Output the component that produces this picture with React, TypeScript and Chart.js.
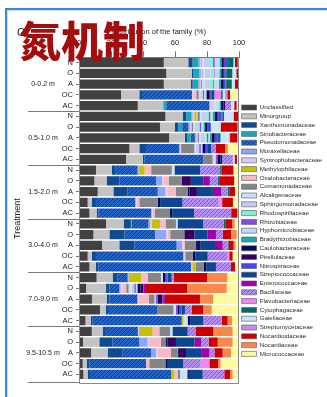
import React, { useEffect, useRef } from "react";
import { Chart, registerables } from "chart.js";

Chart.register(...registerables);

const FONT = '"Liberation Sans", Arial, sans-serif';

// Depth intervals and treatments (one bar per treatment per depth)
const depths = ["0-0.2 m", "0.5-1.0 m", "1.5-2.0 m", "3.0-4.0 m", "7.0-9.0 m", "9.5-10.5 m"];
const treatments = ["N", "O", "A", "OC", "AC"];
const rowLabels = depths.flatMap(() => treatments);
const xTicks = [0, 20, 40, 60, 80, 100];

// Relative abundance (%) of each family, one value per bar (top to bottom)
const unclassified = [53, 54.5, 53, 26.3, 36.7, 54, 50.6, 56.3, 31.5, 29.4, 10.6, 9.6, 11.7, 5.4, 6.5, 16.9, 9, 14.4, 5.4, 6.5, 11, 4.4, 8.1, 13.1, 4, 8, 2.5, 7.5, 2.3, 2.7];
const minorgroup = [15.3, 16, 16.8, 11.4, 16, 10.8, 9.4, 9.9, 6.2, 10.4, 10, 7.7, 9.8, 2.7, 4.5, 11, 10, 10.8, 2.7, 4.1, 10, 12.5, 9.2, 3.6, 3.5, 6.8, 10.2, 10.4, 2.5, 2.7];
const xanthomonadaceae = [2.7, 1, 1.2, 1.7, 0.3, 2.2, 2, 1.5, 4.2, 1, 2, 7.9, 8.9, 2.5, 1.2, 4.5, 9.5, 9.4, 2.5, 1.7, 3.2, 2.1, 1.7, 1.4, 1, 2, 8.3, 9.4, 1.7, 1.5];
const sinobacteraceae = [3.6, 3.7, 3.5, 0, 1.5, 3, 2.5, 2, 0, 0, 0, 0, 0, 0, 0, 0.5, 0, 0, 0, 0, 0, 0, 0, 0, 0, 0, 0, 0, 0, 0];
const pseudomonadaceae = [0, 0, 0, 31.2, 27, 0, 3.8, 2.7, 20.8, 36.9, 14, 22.9, 18.8, 24.6, 33, 10.5, 19, 26.4, 54.6, 57.7, 6.2, 6.2, 17.5, 31, 55.7, 20, 16.7, 17.7, 35.4, 50.6];
const moraxellaceae = [1, 1, 1, 0, 0, 1, 1, 0.8, 0, 0, 0.7, 3.8, 4.8, 0, 0, 1, 7, 3.4, 0, 0, 0.6, 0.8, 0, 0, 0, 0, 5.2, 3.1, 0, 0];
const syntrophobacteraceae = [0.5, 0.5, 0.5, 1, 2, 1, 1, 0.8, 1.1, 0, 0, 0.8, 1.5, 0.8, 1, 1.2, 0.8, 1, 1.2, 0.8, 0, 1, 0.7, 0, 0, 0.7, 0.8, 1, 0, 0];
const methylophilaceae = [0, 0, 0, 0, 0, 1.5, 0, 0, 0, 0, 3.7, 0, 0, 0, 0, 5, 0, 0, 0, 2.1, 7.8, 0, 0, 0, 1, 8.5, 0, 0, 0, 2.1];
const oxalobacteraceae = [0, 0, 0, 1.7, 0, 0.5, 0, 0, 0, 0, 4.1, 3.3, 4.9, 1.7, 1.3, 3.5, 1.7, 0.8, 0, 0, 4.2, 2.5, 6.3, 0, 0, 4.2, 7.5, 8.4, 2, 2.1];
const comamonadaceae = [0.5, 0.5, 0.8, 1.5, 0.3, 1.5, 1, 1, 8.3, 5.8, 12.9, 8.3, 7.7, 11.5, 9.4, 6.5, 8.8, 6.9, 4.6, 5, 8.2, 1.5, 3.6, 9.9, 0, 6.7, 3.2, 4.2, 10.1, 1.5];
const alcaligenaceae = [1.2, 1.5, 1.5, 1, 1.5, 1, 1, 1, 1, 1, 1.2, 0, 0, 0, 0, 1, 0, 0, 0, 0, 1.2, 2, 0, 1.5, 1.5, 1.5, 0, 0, 0, 4.5];
const sphingomonadaceae = [3.5, 3.5, 3, 1.5, 0.5, 3, 2, 3, 2, 1, 0, 0, 0, 0, 0, 0, 0, 0, 0, 0, 0, 1.5, 1, 0, 0, 0, 0, 0, 0, 0];
const rhodospirillaceae = [2.5, 2, 2.5, 0, 0, 1.5, 1, 1, 0, 0, 0, 0, 0, 0, 0, 0, 0, 0, 0, 0, 0, 0, 0, 0, 0, 0, 0, 0, 0, 0];
const rhizobiaceae = [1, 0.5, 0.5, 0.8, 0, 1, 1, 0.8, 1, 1, 0, 0, 0, 0, 0, 0, 0, 0, 0, 0, 0, 1, 1, 1, 0, 0, 0, 0, 0, 0];
const hyphomicrobiaceae = [3, 3, 3, 1.5, 2, 1.5, 1.5, 1, 1, 0, 0.5, 0, 0, 0, 0, 0, 0, 0, 0, 0, 0, 1, 0, 0, 1.3, 0, 0, 0, 0, 0];
const bradyrhizobiaceae = [1.2, 1.2, 1.2, 0, 1, 1.5, 1, 1, 0, 0, 0, 0, 0, 0, 0, 0, 0, 0, 0, 0, 0, 0, 0, 0, 0, 0, 0, 0, 0, 0];
const caulobacteraceae = [1.5, 1.5, 1.5, 2, 1.5, 1.5, 1.5, 2, 2, 2, 0, 0, 1, 1.5, 1.5, 0, 0, 0.6, 1.7, 1.7, 1.5, 2, 1.5, 1, 1.5, 0, 0.8, 0.7, 1.5, 1];
const pirellulaceae = [0.5, 0.4, 0.5, 0.5, 1, 0.6, 0, 0.6, 0, 1, 0, 5.6, 4.6, 0, 0, 0, 6.3, 2, 0, 0, 0, 1.5, 1.5, 0, 0, 0, 5.4, 4.5, 0, 0];
const nitrospiraceae = [1.5, 1, 1, 1, 0, 2, 1, 1, 1.5, 0, 0, 0, 0, 0, 0, 0, 0, 0, 0, 0, 1.5, 0.5, 1, 1.5, 0, 0, 0, 0, 0, 0];
const streptococcaceae = [0.5, 0.5, 0.5, 1.5, 0, 0.5, 1, 1, 2, 0, 16, 7.7, 10, 14, 13.5, 16, 8.3, 9.9, 7.7, 6, 2.5, 0, 0, 2.2, 8.2, 9.5, 11.5, 9.4, 9.7, 8.6];
const enterococcaceae = [0, 0, 0, 0, 0, 0, 0, 0, 0, 0, 0, 4.2, 5.2, 0, 0, 0, 5.2, 4.2, 0, 0, 0, 0.8, 0.6, 0, 0, 0, 4.2, 5.2, 0, 0];
const bacillaceae = [0, 0, 0, 0, 3.7, 0, 0, 0, 3, 6.7, 12.5, 4.8, 4.2, 22.5, 23, 13, 4.2, 3.1, 12.5, 9.4, 1.3, 0, 0, 4.2, 11.5, 5.2, 4.7, 3.1, 10.8, 13.5];
const flavobacteriaceae = [0, 0, 0, 4.2, 0, 0, 0, 0, 0, 0, 0, 0, 0, 1.5, 0, 0, 0, 0, 1, 0, 0, 0, 0, 0, 0, 0, 0, 0, 5.5, 0];
const cytophagaceae = [3.5, 3.5, 3.5, 1, 0, 1, 0, 1, 0, 0, 1, 1, 0.8, 0, 0.6, 1.2, 0, 0.6, 0, 0, 0, 0, 0, 0, 0, 0, 0, 0, 0, 0];
const gaiellaceae = [1, 2.5, 2, 1.5, 2, 6, 6.2, 5.5, 0, 1, 0, 0, 0, 0, 0, 0, 0, 0, 0, 0, 0, 0, 0, 0, 0, 0, 0, 0, 0, 0];
const streptomycetaceae = [0, 0, 0, 1.4, 0, 0, 0, 0.5, 0, 0, 0, 0, 0, 0.8, 0, 0, 0, 0, 0, 0, 0, 0, 0, 0, 0, 0, 0, 0, 0, 0];
const nocardioidaceae = [1.7, 1.7, 2, 1.7, 1.5, 2.8, 10.6, 4.6, 5.7, 1.5, 7.3, 9.4, 3.6, 6.7, 3.5, 4, 5.2, 3.1, 2.1, 2.5, 20.8, 26.2, 21.9, 7.3, 3.7, 10.9, 5.7, 5.2, 5.5, 3.6];
const nocardiaceae = [0, 0, 0, 0, 0, 0, 0, 0, 1.7, 0, 0, 0, 0, 0, 0, 1.5, 3.5, 1.2, 0, 0, 12.7, 24.8, 8.3, 5.2, 2.7, 12, 9.3, 5.2, 1.5, 1.6];
const micrococcaceae = [0.8, 0, 0.5, 5.6, 1.5, 0.6, 0.9, 1, 7, 1.3, 3.5, 3, 2.5, 3.8, 1, 2.7, 1.5, 2.2, 4, 2.5, 7.3, 7.7, 16.1, 17.1, 4.4, 4, 4, 5, 11.5, 4];

// Family names, values and fill colours, in stacking / legend order
const familyNames = [
  "Unclassified", "Minorgroup", "Xanthomonadaceae", "Sinobacteraceae", "Pseudomonadaceae",
  "Moraxellaceae", "Syntrophobacteraceae", "Methylophilaceae", "Oxalobacteraceae", "Comamonadaceae",
  "Alcaligenaceae", "Sphingomonadaceae", "Rhodospirillaceae", "Rhizobiaceae", "Hyphomicrobiaceae",
  "Bradyrhizobiaceae", "Caulobacteraceae", "Pirellulaceae", "Nitrospiraceae", "Streptococcaceae",
  "Enterococcaceae", "Bacillaceae", "Flavobacteriaceae", "Cytophagaceae", "Gaiellaceae",
  "Streptomycetaceae", "Nocardioidaceae", "Nocardiaceae", "Micrococcaceae",
];
const familyValues = [
  unclassified, minorgroup, xanthomonadaceae, sinobacteraceae, pseudomonadaceae,
  moraxellaceae, syntrophobacteraceae, methylophilaceae, oxalobacteraceae, comamonadaceae,
  alcaligenaceae, sphingomonadaceae, rhodospirillaceae, rhizobiaceae, hyphomicrobiaceae,
  bradyrhizobiaceae, caulobacteraceae, pirellulaceae, nitrospiraceae, streptococcaceae,
  enterococcaceae, bacillaceae, flavobacteriaceae, cytophagaceae, gaiellaceae,
  streptomycetaceae, nocardioidaceae, nocardiaceae, micrococcaceae,
];
const familyColors = [
  "#414141", "#c3c3c3", "#124a8f", "#1aa8b8", "#2462c4",
  "#8fa5f5", "#dec8f4", "#c4c10a", "#f7b9c2", "#858585",
  "#c5e2f7", "#c7c9f2", "#86f0d2", "#8549e6", "#c2d9f2",
  "#1aa9a6", "#000a5c", "#35005e", "#4747ef", "#0d4590",
  "#a100a8", "#b48ef2", "#f285ee", "#006b66", "#c9e6f8",
  "#c58cf2", "#cc0000", "#f7894a", "#fbfb9c",
];
// Families drawn with diagonal stripes, and the stripe colour
const hatchColors: Record<string, string> = {
  Pseudomonadaceae: "#0b3f8c",
  Bacillaceae: "#8658d4",
};

function hatch(base: string, stripe: string): CanvasPattern | string {
  const c = document.createElement("canvas");
  c.width = 4;
  c.height = 4;
  const g = c.getContext("2d");
  if (!g) return base;
  g.fillStyle = base;
  g.fillRect(0, 0, 4, 4);
  g.strokeStyle = stripe;
  g.lineWidth = 1;
  g.beginPath();
  g.moveTo(0, 4);
  g.lineTo(4, 0);
  g.moveTo(-1, 1);
  g.lineTo(1, -1);
  g.moveTo(3, 5);
  g.lineTo(5, 3);
  g.stroke();
  return g.createPattern(c, "repeat") ?? base;
}

// Depth labels, group separators and the plot frame
const depthGroups = {
  id: "depthGroups",
  afterDraw(chart: any) {
    const { ctx, chartArea } = chart;
    const y = chart.scales.y;
    const step = y.getPixelForValue(1) - y.getPixelForValue(0);
    const frameBottom = Math.round(chartArea.bottom + 3.5);
    ctx.save();
    ctx.strokeStyle = "#8a8a8a";
    ctx.lineWidth = 1;
    ctx.beginPath();
    ctx.moveTo(chartArea.left + 0.5, chartArea.top);
    ctx.lineTo(chartArea.left + 0.5, frameBottom + 0.5);
    ctx.lineTo(chartArea.right - 0.5, frameBottom + 0.5);
    ctx.lineTo(chartArea.right - 0.5, chartArea.top);
    ctx.stroke();

    ctx.fillStyle = "#222";
    ctx.font = `7px ${FONT}`;
    ctx.textAlign = "center";
    ctx.textBaseline = "middle";
    depths.forEach((d, g) => {
      const mid = y.getPixelForValue(g * 5 + 2);
      ctx.fillText(d, y.left + 43, mid);
      let sep = Math.round(y.getPixelForValue(g * 5 + 4) + step / 2) + 0.5;
      if (g === depths.length - 1) sep += 2;
      ctx.strokeStyle = "#7a7a7a";
      ctx.beginPath();
      ctx.moveTo(y.left + 28, sep);
      ctx.lineTo(chartArea.left, sep);
      ctx.stroke();
    });
    ctx.restore();
  },
};

export default function App() {
  const ref = useRef<HTMLCanvasElement | null>(null);

  useEffect(() => {
    if (!ref.current) return;
    const datasets = familyNames.map((name, i) => ({
      label: name,
      data: familyValues[i],
      backgroundColor: hatchColors[name] ? hatch(familyColors[i], hatchColors[name]) : familyColors[i],
      borderWidth: 0,
      barPercentage: 0.87,
      categoryPercentage: 1,
    }));

    const chart = new Chart(ref.current, {
      type: "bar",
      data: { labels: rowLabels, datasets },
      plugins: [depthGroups],
      options: {
        indexAxis: "y",
        responsive: false,
        animation: false,
        events: [],
        layout: { padding: { left: 0, right: 0, top: 0, bottom: 17.2 } },
        scales: {
          x: {
            position: "top",
            stacked: true,
            min: 0,
            max: 100,
            afterBuildTicks: (s: any) => {
              s.ticks = xTicks.map((v) => ({ value: v }));
            },
            ticks: { padding: 3.8, color: "#222", font: { family: FONT, size: 7.5 } },
            grid: { drawOnChartArea: false, tickLength: 6, color: "#777" },
            border: { color: "#777" },
            title: {
              display: true,
              text: "Distribution of the family (%)",
              color: "#222",
              font: { family: FONT, size: 7.5 },
              padding: { top: 27.5, bottom: 0 },
            },
            afterFit: (s: any) => {
              s.height = 57.3;
            },
          },
          y: {
            stacked: true,
            ticks: { autoSkip: false, padding: 3, color: "#222", font: { family: FONT, size: 7.5 } },
            grid: { drawOnChartArea: false, offset: false, tickLength: 3, color: "#777" },
            border: { display: false },
            title: {
              display: true,
              text: "Treatment",
              color: "#222",
              font: { family: FONT, size: 9 },
              padding: { top: 12.6, bottom: 0 },
            },
            afterFit: (s: any) => {
              s.width = 79;
            },
          },
        },
        plugins: {
          tooltip: { enabled: false },
          legend: {
            position: "right",
            align: "start",
            maxWidth: 88,
            title: {
              display: true,
              text: "",
              font: { size: 1, lineHeight: 1 },
              padding: { top: 100.8, bottom: 0 },
            },
            labels: {
              boxWidth: 15,
              boxHeight: 5,
              padding: 2.6,
              color: "#2a2a2a",
              font: { family: FONT, size: 6.2 },
              generateLabels: (c: any) =>
                Chart.defaults.plugins.legend.labels
                  .generateLabels(c)
                  .map((l: any) => ({ ...l, lineWidth: 0.6, strokeStyle: "#555" })),
            },
          },
        },
      } as any,
    });
    return () => chart.destroy();
  }, []);

  return (
    <div style={{ position: "fixed", left: 0, top: 0, width: 327, height: 397, background: "#fff", overflow: "hidden" }}>
      <canvas ref={ref} width={327} height={397} style={{ position: "absolute", left: 0, top: 0 }} />
      <div style={{ position: "absolute", left: 5, top: 8, width: 330, height: 400, borderTop: "2px solid #3a86d6", borderLeft: "2px solid #3a86d6" }} />
      <div style={{ position: "absolute", left: 7, top: 10, width: 330, height: 400, borderTop: "1px solid #dcdcdc", borderLeft: "1px solid #dcdcdc" }} />
      <div style={{ position: "absolute", left: 17, top: 26.6, font: `11px ${FONT}`, lineHeight: "11px", color: "#222" }}>C</div>
      <div
        style={{
          position: "absolute",
          left: 19,
          top: 18,
          font: '900 42px "Noto Sans CJK SC", sans-serif',
          lineHeight: "42px",
          color: "#a30d0d",
          whiteSpace: "nowrap",
        }}
      >
        氮机制
      </div>
    </div>
  );
}
